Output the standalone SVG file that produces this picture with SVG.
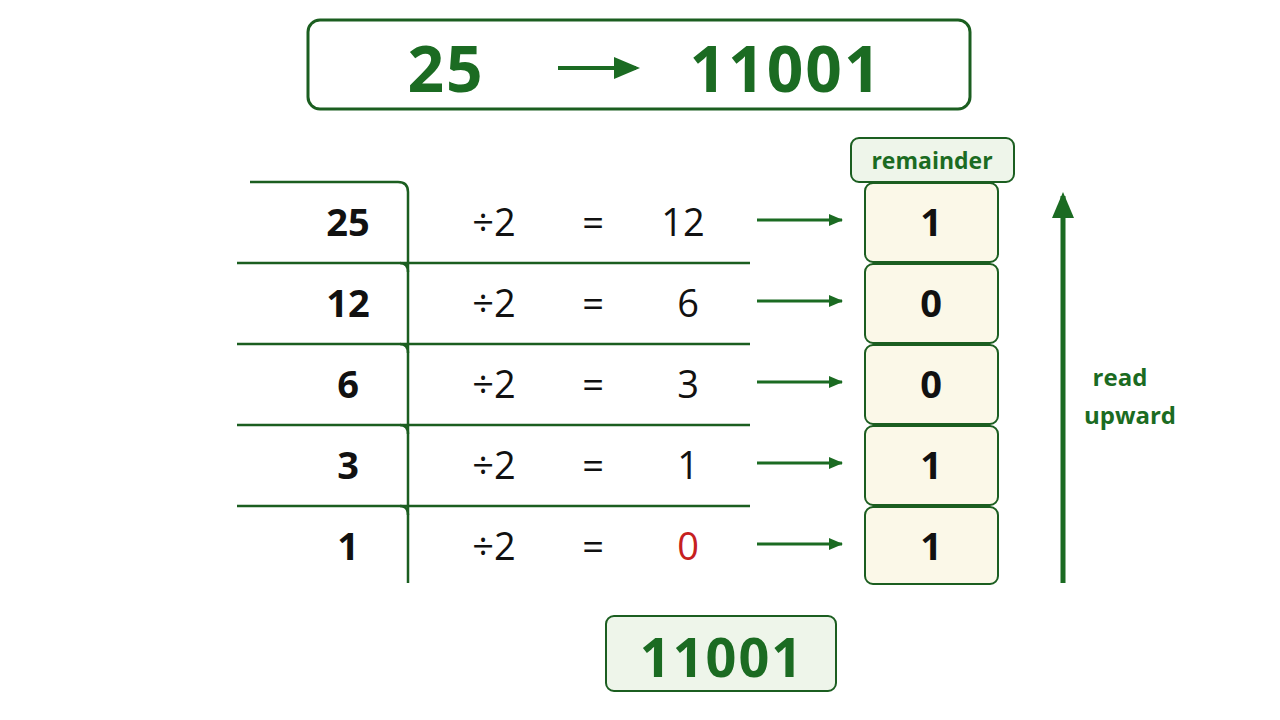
<svg xmlns="http://www.w3.org/2000/svg" width="1280" height="720" viewBox="0 0 1280 720">
<style>
.g{fill:#1b6b22;font-family:"Open Sans","Liberation Sans",sans-serif;font-weight:bold}
.n{fill:#111;font-family:"Open Sans","Liberation Sans",sans-serif;font-size:38px;text-anchor:middle}
.b{font-weight:bold}
.ln{stroke:#1b5e20;stroke-width:2.5;fill:none}
.rb{fill:#fbf8e8;stroke:#1b5e20;stroke-width:2}
</style>
<defs><marker id="ah" markerWidth="14" markerHeight="14" refX="13" refY="7" orient="auto" markerUnits="userSpaceOnUse" viewBox="0 0 14 14"><path d="M0,1L14,7L0,13z" fill="#1b6b22"/></marker>
<marker id="ah2" markerWidth="26" markerHeight="26" refX="22" refY="13" orient="auto" markerUnits="userSpaceOnUse" viewBox="0 0 26 26"><path d="M0,2L26,13L0,24z" fill="#1b6b22"/></marker></defs>
<rect width="1280" height="720" fill="#fff"/>
<g id="title">
<rect x="308" y="20" width="662" height="89" rx="12" fill="#fff" stroke="#1b5e20" stroke-width="3"/>
<text class="g" x="446" y="92" font-size="64" text-anchor="middle" letter-spacing="2">25</text>
<text class="g" x="786" y="92" font-size="64" text-anchor="middle" letter-spacing="2">11001</text>
</g>
<g id="table">
<path class="ln" d="M250,182H398Q408,182 408,192V583"/>
<path class="ln" d="M237,263H750M237,344H750M237,425H750M237,506H750"/>
<path class="ln" d="M400,263Q408,263 408,272M400,344Q408,344 408,353M400,425Q408,425 408,434M400,506Q408,506 408,515"/>
<g class="n">
<text x="348" y="236" class="b">25</text><text x="494" y="236">÷2</text><text x="593" y="236">=</text><text x="683" y="236">12</text>
<text x="348" y="317" class="b">12</text><text x="494" y="317">÷2</text><text x="593" y="317">=</text><text x="688" y="317">6</text>
<text x="348" y="398" class="b">6</text><text x="494" y="398">÷2</text><text x="593" y="398">=</text><text x="688" y="398">3</text>
<text x="348" y="479" class="b">3</text><text x="494" y="479">÷2</text><text x="593" y="479">=</text><text x="688" y="479">1</text>
<text x="348" y="560" class="b">1</text><text x="494" y="560">÷2</text><text x="593" y="560">=</text><text x="688" y="560" fill="#c62020">0</text>
</g>
</g>
<g id="connectors" stroke="#1b6b22" stroke-width="3">
<line x1="757" y1="220" x2="842" y2="220" marker-end="url(#ah)"/>
<line x1="757" y1="301" x2="842" y2="301" marker-end="url(#ah)"/>
<line x1="757" y1="382" x2="842" y2="382" marker-end="url(#ah)"/>
<line x1="757" y1="463" x2="842" y2="463" marker-end="url(#ah)"/>
<line x1="757" y1="544" x2="842" y2="544" marker-end="url(#ah)"/>
<line x1="558" y1="68" x2="636" y2="68" stroke-width="4" marker-end="url(#ah2)"/>
<line x1="1063" y1="583" x2="1063" y2="196" stroke-width="5" marker-end="url(#ah2)"/>
</g>
<g id="remainders">
<rect x="851" y="138" width="163" height="44" rx="8" fill="#eef5ea" stroke="#1b5e20" stroke-width="2"/>
<text class="g" x="932" y="169" font-size="23" text-anchor="middle">remainder</text>
<rect class="rb" x="865" y="183" width="133" height="79" rx="8"/>
<rect class="rb" x="865" y="264" width="133" height="79" rx="8"/>
<rect class="rb" x="865" y="345" width="133" height="79" rx="8"/>
<rect class="rb" x="865" y="426" width="133" height="79" rx="8"/>
<rect class="rb" x="865" y="507" width="133" height="77" rx="8"/>
<g class="n b"><text x="931" y="236">1</text><text x="931" y="317">0</text><text x="931" y="398">0</text><text x="931" y="479">1</text><text x="931" y="560">1</text></g>
</g>
<g id="label"><text class="g" font-size="24" text-anchor="middle"><tspan x="1120" y="386">read</tspan><tspan x="1130" y="424">upward</tspan></text></g>
<g id="result">
<rect x="606" y="616" width="230" height="75" rx="8" fill="#eef5ea" stroke="#1b5e20" stroke-width="2"/>
<text class="g" x="722" y="677" font-size="54" text-anchor="middle" letter-spacing="2">11001</text>
</g>
</svg>
